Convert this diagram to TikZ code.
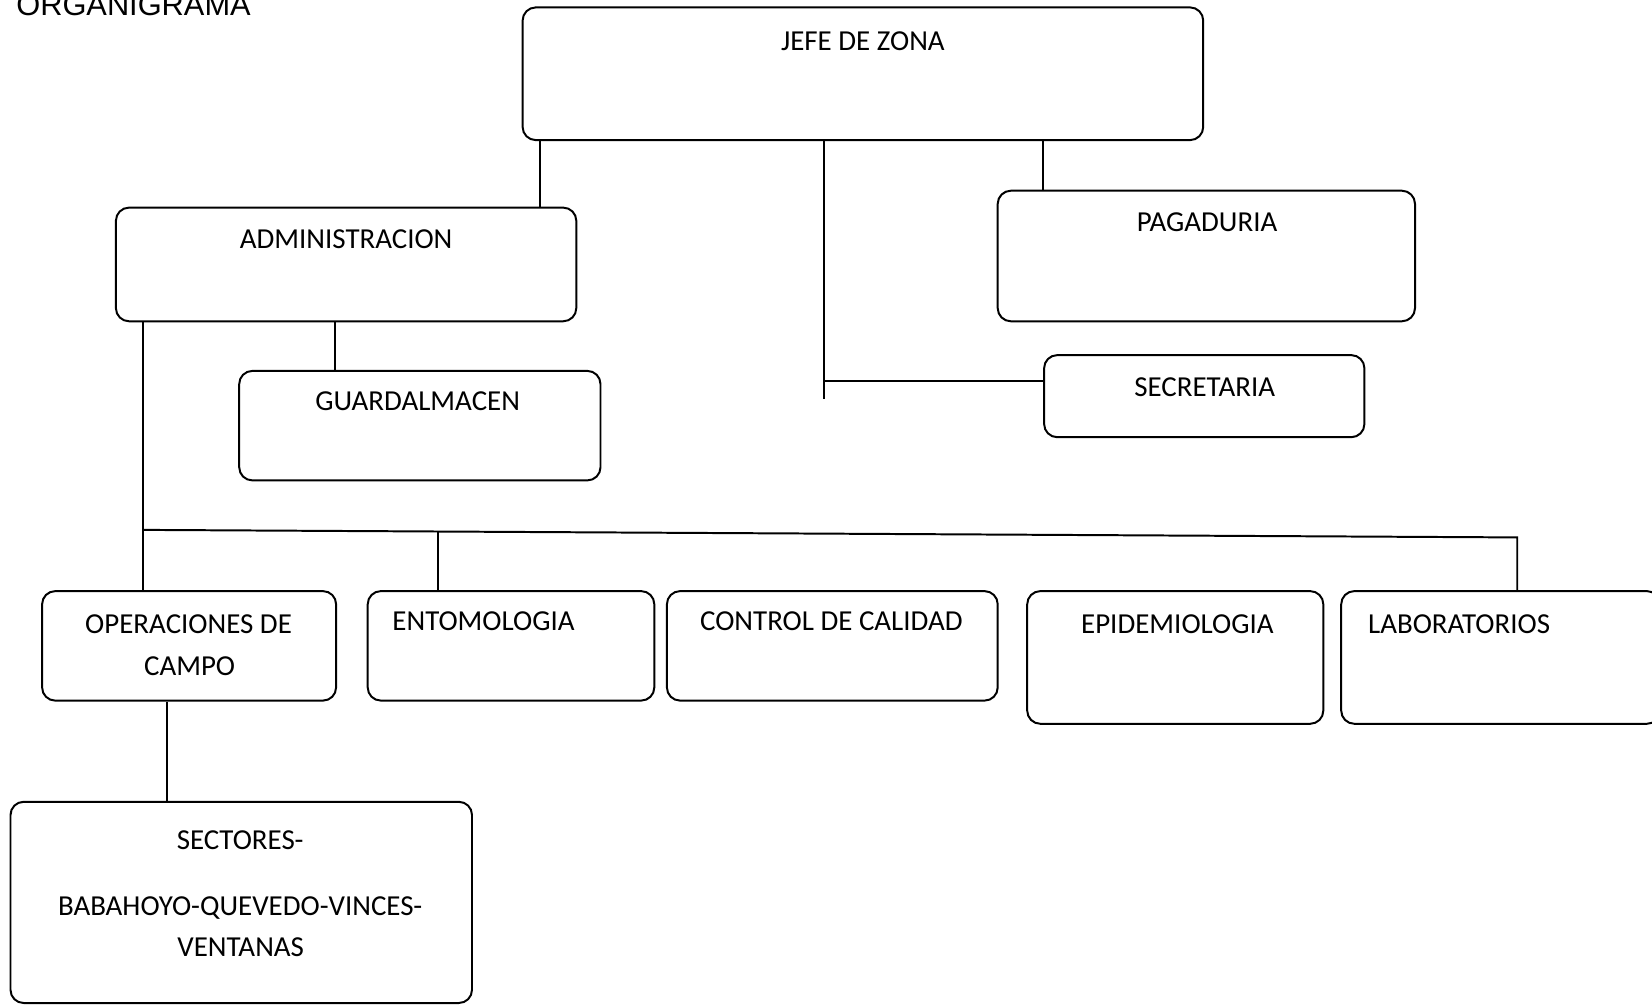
\documentclass[tikz,border=0pt]{standalone}
\usepackage{fontspec}
\setmainfont{Carlito}
\newfontfamily\titlefont{Liberation Sans}
\usetikzlibrary{calc,fit}
\tikzset{
  box/.style={draw=black, line width=.75pt, rounded corners=5pt, inner sep=0pt},
  lbl/.style={font=\fontsize{11}{13}\selectfont, inner sep=0pt,
    text height=7.1pt, text depth=0pt},
  link/.style={draw=black, line width=.75pt},
  headline/.style={font=\titlefont\fontsize{11.7}{14}\selectfont, inner sep=0pt}
}

\begin{document}
\begin{tikzpicture}[x=0.38pt,y=-0.38pt]
  \useasboundingbox (0,0) rectangle (1652,1004);

  \node[headline, anchor=base west] (title) at (15.8,15.5) {ORGANIGRAMA};

  % ------------------------------------------------------------------
  % upper level
  \node[box, fit={(522.6,7.4) (1203.2,140.1)}] (jefe) {};
  \node[lbl] (jefe-t) at (862.9,41.1) {JEFE DE ZONA};

  \node[box, fit={(115.9,207.6) (576.3,321.3)}] (admin) {};
  \node[lbl] (admin-t) at (346.1,239.2) {ADMINISTRACION};

  \node[box, fit={(997.7,190.7) (1415.0,321.3)}] (paga) {};
  \node[lbl] (paga-t) at (1207,222.4) {PAGADURIA};

  \node[box, fit={(239.2,370.9) (600.5,480.4)}] (guard) {};
  \node[lbl] (guard-t) at (417.7,401.4) {GUARDALMACEN};

  \node[box, fit={(1044.1,355.1) (1364.4,437.2)}] (secre) {};
  \node[lbl] (secre-t) at (1204.7,387.6) {SECRETARIA};

  % ------------------------------------------------------------------
  % departments
  \node[box, fit={(42.1,591.1) (336.1,700.6)}] (ops) {};
  \node[lbl] (ops-t1) at (188.6,623.7) {OPERACIONES DE};
  \node[lbl] (ops-t2) at (189.6,665.9) {CAMPO};

  \node[box, fit={(367.7,591.1) (654.3,700.6)}] (ento) {};
  \node[lbl, anchor=west] (ento-t) at (391.9,621.6) {ENTOMOLOGIA};

  \node[box, fit={(666.9,591.1) (997.7,700.6)}] (ctrl) {};
  \node[lbl, anchor=west] (ctrl-t) at (699.6,621.6) {CONTROL DE CALIDAD};

  \node[box, fit={(1027.2,591.1) (1323.3,723.8)}] (epid) {};
  \node[lbl] (epid-t) at (1177.4,623.7) {EPIDEMIOLOGIA};

  \node[box, fit={(1341.2,591.1) (1660,723.8)}] (lab) {};
  \node[lbl, anchor=west] (lab-t) at (1367.6,623.7) {LABORATORIOS};

  \node[box, fit={(10.5,801.8) (472,1003)}] (sect) {};
  \node[lbl] (sect-t1) at (240.2,839.7) {SECTORES-};
  \node[lbl] (sect-t2) at (240.2,906.1) {BABAHOYO-QUEVEDO-VINCES-};
  \node[lbl] (sect-t3) at (240.7,947.2) {VENTANAS};

  % ------------------------------------------------------------------
  % connectors
  \coordinate (ja) at ($(jefe.south west)+(17.9,0)$);
  \coordinate (js) at ($(jefe.south west)+(302.4,0)$);
  \coordinate (jp) at ($(jefe.south west)+(521.5,0)$);
  \coordinate (js-end) at ($(js)+(0,257.9)$);
  \coordinate (sh) at ($(secre.west)+(0,-14.8)$);
  \coordinate (ag) at ($(admin.south west)+(220.2,0)$);
  \coordinate (ao) at ($(admin.south west)+(28.4,0)$);
  \coordinate (bus-l) at ($(ao)+(0,207.6)$);
  \coordinate (bus-r) at ($(lab.north west)+(177,-52.7)$);
  \coordinate (ebus) at ($(bus-l)!0.2147!(bus-r)$);
  \coordinate (os) at ($(ops.south west)+(125.8,0)$);

  \draw[link] (ja) -- (ja |- admin.north);
  \draw[link] (js) -- (js-end);
  \draw[link] (sh -| js) -- (sh);
  \draw[link] (jp) -- (jp |- paga.north);
  \draw[link] (ag) -- (ag |- guard.north);
  \draw[link] (ao) -- (ao |- ops.north);
  \draw[link] (bus-l) -- (bus-r) -- (bus-r |- lab.north);
  \draw[link] (ebus) -- (ebus |- ento.north);
  \draw[link] (os) -- (os |- sect.north);
\end{tikzpicture}
\end{document}
